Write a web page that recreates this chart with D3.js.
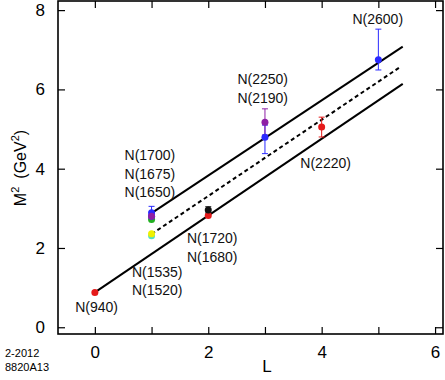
<!DOCTYPE html>
<html>
<head>
<meta charset="utf-8">
<script src="https://cdn.jsdelivr.net/npm/d3@7"></script>
<style>
  body { margin: 0; background: #fff; }
  svg { display: block; font-family: "Liberation Sans", Arial, Helvetica, sans-serif; }
</style>
</head>
<body>
<div id="chart"></div>
<script>
// data: resonances (L, M^2), error bars and colours
const pointL     = [0, 1, 1, 1, 1, 1, 1, 2, 2, 3, 3, 4, 5]
const pointM2    = [0.88, 2.31, 2.36, 2.72, 2.80, 2.89, 2.80, 2.82, 2.96, 4.79, 5.17, 5.05, 6.75]
const pointLo    = [null, null, null, null, null, 2.80, null, null, 2.88, 4.38, 4.85, 4.80, 6.49]
const pointHi    = [null, null, null, null, null, 3.05, null, null, 3.04, 5.10, 5.51, 5.30, 7.52]
const pointColor = ['#e51a1a', '#55e0c0', '#f0f000', '#22b022', '#2a2aff', '#2a2aff', '#8e1fa5',
                    '#e51a1a', '#111111', '#2a2aff', '#8e1fa5', '#e51a1a', '#2a2aff']

// trajectories
const lowerLine  = [[0, 0.88], [5.43, 6.14]]
const upperLine  = [[1, 2.88], [5.43, 7.08]]
const dashedLine = [[1, 2.35], [5.40, 6.58]]

// state labels, anchored in data coordinates (L, M^2)
const labelText = ['N(940)', 'N(1535)', 'N(1520)', 'N(1720)', 'N(1680)', 'N(1700)', 'N(1675)',
                   'N(1650)', 'N(2250)', 'N(2190)', 'N(2220)', 'N(2600)']
const labelL    = [0.03, 1.10, 1.10, 2.07, 2.07, 0.97, 0.97, 0.97, 2.96, 2.96, 4.07, 4.99]
const labelM2   = [0.50, 1.40, 0.94, 2.25, 1.78, 4.35, 3.87, 3.40, 6.26, 5.79, 4.14, 7.77]

const xTicks = [0, 1, 2, 3, 4, 5, 6]
const xTickLabels = [0, 2, 4, 6]
const yTicks = [0, 2, 4, 6, 8]

const width = 445
const height = 380
const margin = { top: 1, right: 2, bottom: 46, left: 58 }
const w = width - margin.left - margin.right
const h = height - margin.top - margin.bottom

const svg = d3.select('#chart').append('svg')
    .attr('width', width)
    .attr('height', height)

const x = d3.scaleLinear().domain([-0.65, 6.14]).range([margin.left, margin.left + w])
const y = d3.scaleLinear().domain([-0.17, 8.23]).range([margin.top + h, margin.top])

// frame
svg.append('rect')
    .attr('x', margin.left)
    .attr('y', margin.top)
    .attr('width', w)
    .attr('height', h)
    .attr('fill', 'none')
    .attr('stroke', '#000')
    .attr('stroke-width', 1.6)

// axes with inward ticks
const tickLen = 7
const xAxisB = d3.axisBottom(x).tickValues(xTicks).tickSize(-tickLen)
    .tickFormat(d => xTickLabels.includes(d) ? d : '').tickPadding(12)
const xAxisT = d3.axisTop(x).tickValues(xTicks).tickSize(-tickLen).tickFormat('')
const yAxisL = d3.axisLeft(y).tickValues(yTicks).tickSize(-tickLen).tickPadding(13)
const yAxisR = d3.axisRight(y).tickValues(yTicks).tickSize(-tickLen).tickFormat('')

function styleAxis(g) {
    g.select('.domain').remove()
    g.selectAll('.tick line').attr('stroke', '#000').attr('stroke-width', 1.2)
    g.selectAll('.tick text')
        .attr('fill', '#000')
        .style('font-size', '17px')
        .style('font-family', '"Liberation Sans", Arial, sans-serif')
}

svg.append('g').attr('transform', `translate(0,${margin.top + h})`).call(xAxisB).call(styleAxis)
svg.append('g').attr('transform', `translate(0,${margin.top})`).call(xAxisT).call(styleAxis)
svg.append('g').attr('transform', `translate(${margin.left},0)`).call(yAxisL).call(styleAxis)
svg.append('g').attr('transform', `translate(${margin.left + w},0)`).call(yAxisR).call(styleAxis)

// axis titles
svg.append('text')
    .attr('x', 267)
    .attr('y', 372)
    .attr('text-anchor', 'middle')
    .style('font-size', '17px')
    .text('L')

const yTitle = svg.append('text')
    .attr('transform', 'translate(26,168) rotate(-90)')
    .attr('text-anchor', 'middle')
    .style('font-size', '16px')
yTitle.append('tspan').text('M')
yTitle.append('tspan').attr('dy', -7).style('font-size', '11px').text('2')
yTitle.append('tspan').attr('dy', 7).text('\u2002(GeV')
yTitle.append('tspan').attr('dy', -7).style('font-size', '11px').text('2')
yTitle.append('tspan').attr('dy', 7).text(')')

// footer code
svg.append('text').attr('x', 5).attr('y', 357).style('font-size', '11px').text('2-2012')
svg.append('text').attr('x', 5).attr('y', 371).style('font-size', '11px').text('8820A13')

// trajectories
const line = d3.line().x(d => x(d[0])).y(d => y(d[1]))
svg.append('path').datum(lowerLine).attr('d', line)
    .attr('stroke', '#000').attr('stroke-width', 2).attr('fill', 'none')
svg.append('path').datum(upperLine).attr('d', line)
    .attr('stroke', '#000').attr('stroke-width', 2).attr('fill', 'none')
svg.append('path').datum(dashedLine).attr('d', line)
    .attr('stroke', '#000').attr('stroke-width', 2).attr('fill', 'none')
    .attr('stroke-dasharray', '4,3')

// points
const points = pointL.map((l, i) => ({
    l: l, m2: pointM2[i], lo: pointLo[i], hi: pointHi[i], color: pointColor[i]
}))

const errG = svg.append('g')
points.filter(d => d.lo !== null).forEach(d => {
    errG.append('line')
        .attr('x1', x(d.l)).attr('x2', x(d.l))
        .attr('y1', y(d.lo)).attr('y2', y(d.hi))
        .attr('stroke', d.color).attr('stroke-width', 1)
    ;[d.lo, d.hi].forEach(v => {
        errG.append('line')
            .attr('x1', x(d.l) - 3).attr('x2', x(d.l) + 3)
            .attr('y1', y(v)).attr('y2', y(v))
            .attr('stroke', d.color).attr('stroke-width', 1)
    })
})

svg.append('g').selectAll('circle')
    .data(points)
    .join('circle')
    .attr('cx', d => x(d.l))
    .attr('cy', d => y(d.m2))
    .attr('r', 3.5)
    .attr('fill', d => d.color)

// labels
svg.append('g').selectAll('text')
    .data(labelText)
    .join('text')
    .attr('x', (d, i) => x(labelL[i]))
    .attr('y', (d, i) => y(labelM2[i]))
    .attr('text-anchor', 'middle')
    .attr('dominant-baseline', 'central')
    .style('font-size', '14px')
    .attr('fill', '#111')
    .text(d => d)
</script>
</body>
</html>
